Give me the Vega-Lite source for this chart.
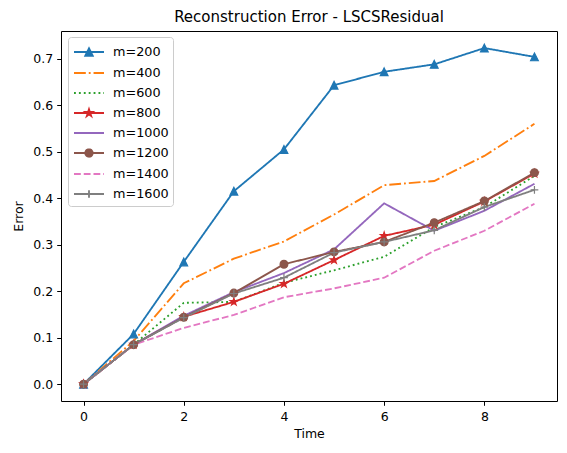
{
  "$schema": "https://vega.github.io/schema/vega-lite/v6.json",
  "title": {
    "text": "Reconstruction Error - LSCSResidual",
    "fontSize": 15,
    "fontWeight": "normal",
    "color": "#000000",
    "baseline": "alphabetic",
    "offset": 8,
    "dy": 14
  },
  "width": 496,
  "height": 370,
  "autosize": {"type": "none"},
  "padding": {"left": 61, "top": 31, "right": 10, "bottom": 52},
  "background": "white",
  "data": {
    "values": [
      {"m": "m=200", "t": 0, "error": 0}, {"m": "m=200", "t": 1, "error": 0.108}, {"m": "m=200", "t": 2, "error": 0.263}, {"m": "m=200", "t": 3, "error": 0.415}, {"m": "m=200", "t": 4, "error": 0.505},
      {"m": "m=200", "t": 5, "error": 0.643}, {"m": "m=200", "t": 6, "error": 0.672}, {"m": "m=200", "t": 7, "error": 0.688}, {"m": "m=200", "t": 8, "error": 0.723}, {"m": "m=200", "t": 9, "error": 0.704},
      {"m": "m=400", "t": 0, "error": 0}, {"m": "m=400", "t": 1, "error": 0.093}, {"m": "m=400", "t": 2, "error": 0.217}, {"m": "m=400", "t": 3, "error": 0.27}, {"m": "m=400", "t": 4, "error": 0.307},
      {"m": "m=400", "t": 5, "error": 0.365}, {"m": "m=400", "t": 6, "error": 0.428}, {"m": "m=400", "t": 7, "error": 0.437}, {"m": "m=400", "t": 8, "error": 0.491}, {"m": "m=400", "t": 9, "error": 0.56},
      {"m": "m=600", "t": 0, "error": 0}, {"m": "m=600", "t": 1, "error": 0.085}, {"m": "m=600", "t": 2, "error": 0.175}, {"m": "m=600", "t": 3, "error": 0.177}, {"m": "m=600", "t": 4, "error": 0.218},
      {"m": "m=600", "t": 5, "error": 0.245}, {"m": "m=600", "t": 6, "error": 0.274}, {"m": "m=600", "t": 7, "error": 0.338}, {"m": "m=600", "t": 8, "error": 0.381}, {"m": "m=600", "t": 9, "error": 0.448},
      {"m": "m=800", "t": 0, "error": 0}, {"m": "m=800", "t": 1, "error": 0.085}, {"m": "m=800", "t": 2, "error": 0.145}, {"m": "m=800", "t": 3, "error": 0.177}, {"m": "m=800", "t": 4, "error": 0.216},
      {"m": "m=800", "t": 5, "error": 0.267}, {"m": "m=800", "t": 6, "error": 0.319}, {"m": "m=800", "t": 7, "error": 0.343}, {"m": "m=800", "t": 8, "error": 0.393}, {"m": "m=800", "t": 9, "error": 0.453},
      {"m": "m=1000", "t": 0, "error": 0}, {"m": "m=1000", "t": 1, "error": 0.085}, {"m": "m=1000", "t": 2, "error": 0.147}, {"m": "m=1000", "t": 3, "error": 0.198}, {"m": "m=1000", "t": 4, "error": 0.239},
      {"m": "m=1000", "t": 5, "error": 0.29}, {"m": "m=1000", "t": 6, "error": 0.389}, {"m": "m=1000", "t": 7, "error": 0.33}, {"m": "m=1000", "t": 8, "error": 0.373}, {"m": "m=1000", "t": 9, "error": 0.431},
      {"m": "m=1200", "t": 0, "error": 0}, {"m": "m=1200", "t": 1, "error": 0.085}, {"m": "m=1200", "t": 2, "error": 0.144}, {"m": "m=1200", "t": 3, "error": 0.196}, {"m": "m=1200", "t": 4, "error": 0.258},
      {"m": "m=1200", "t": 5, "error": 0.2845}, {"m": "m=1200", "t": 6, "error": 0.306}, {"m": "m=1200", "t": 7, "error": 0.3475}, {"m": "m=1200", "t": 8, "error": 0.394}, {"m": "m=1200", "t": 9, "error": 0.455},
      {"m": "m=1400", "t": 0, "error": 0}, {"m": "m=1400", "t": 1, "error": 0.085}, {"m": "m=1400", "t": 2, "error": 0.121}, {"m": "m=1400", "t": 3, "error": 0.149}, {"m": "m=1400", "t": 4, "error": 0.187},
      {"m": "m=1400", "t": 5, "error": 0.206}, {"m": "m=1400", "t": 6, "error": 0.229}, {"m": "m=1400", "t": 7, "error": 0.287}, {"m": "m=1400", "t": 8, "error": 0.33}, {"m": "m=1400", "t": 9, "error": 0.388},
      {"m": "m=1600", "t": 0, "error": 0}, {"m": "m=1600", "t": 1, "error": 0.085}, {"m": "m=1600", "t": 2, "error": 0.143}, {"m": "m=1600", "t": 3, "error": 0.195}, {"m": "m=1600", "t": 4, "error": 0.229},
      {"m": "m=1600", "t": 5, "error": 0.283}, {"m": "m=1600", "t": 6, "error": 0.306}, {"m": "m=1600", "t": 7, "error": 0.331}, {"m": "m=1600", "t": 8, "error": 0.381}, {"m": "m=1600", "t": 9, "error": 0.418}
    ]
  },
  "encoding": {
    "x": {
      "field": "t",
      "type": "quantitative",
      "title": "Time",
      "scale": {"domain": [-0.45, 9.45], "nice": false, "zero": false},
      "axis": {"values": [0, 2, 4, 6, 8], "format": "d", "titlePadding": 5, "labelPadding": 5}
    },
    "y": {
      "field": "error",
      "type": "quantitative",
      "title": "Error",
      "scale": {"domain": [-0.0362, 0.7597], "nice": false, "zero": false},
      "axis": {"values": [0, 0.1, 0.2, 0.3, 0.4, 0.5, 0.6, 0.7], "format": ".1f", "titlePadding": 7}
    }
  },
  "layer": [
    {
      "transform": [{"filter": "datum.t == 0"}],
      "mark": {"type": "point", "filled": true, "opacity": 0},
      "encoding": {
        "color": {
          "field": "m",
          "type": "nominal",
          "scale": {
            "domain": ["m=200", "m=400", "m=600", "m=800", "m=1000", "m=1200", "m=1400", "m=1600"],
            "range": ["#1f77b4", "#ff7f0e", "#2ca02c", "#d62728", "#9467bd", "#8c564b", "#e377c2", "#7f7f7f"]
          },
          "legend": {
            "title": null,
            "orient": "none",
            "legendX": 7,
            "legendY": 6,
            "padding": 4,
            "strokeColor": "#cccccc",
            "cornerRadius": 3,
            "fillColor": "rgba(255,255,255,0.8)",
            "symbolSize": 400,
            "symbolOffset": 6,
            "symbolStrokeWidth": 1.85,
            "symbolOpacity": 1,
            "labelFontSize": 12.8,
            "labelColor": "#000000",
            "labelOffset": 13,
            "rowPadding": 2,
            "labelLimit": 200,
            "encode": {
              "symbols": {"update": {"fill": {"scale": "color", "field": "value"}}}
            }
          }
        },
        "shape": {
          "field": "m",
          "type": "nominal",
          "scale": {
            "domain": ["m=200", "m=400", "m=600", "m=800", "m=1000", "m=1200", "m=1400", "m=1600"],
            "range": [
              "M-1.5,0L1.5,0M0,-0.37L0.37,0.37L-0.37,0.37Z",
              "M-1.5,0L1.5,0",
              "M-1.5,0L1.5,0",
              "M-1.5,0L1.5,0M0,-0.37L0.0831,-0.1143L0.3519,-0.1143L0.1344,0.0437L0.2175,0.2993L0,0.1413L-0.2175,0.2993L-0.1344,0.0437L-0.3519,-0.1143L-0.0831,-0.1143Z",
              "M-1.5,0L1.5,0",
              "M-1.5,0L1.5,0M0.37,0A0.37,0.37,0,1,1,-0.37,0A0.37,0.37,0,1,1,0.37,0Z",
              "M-1.5,0L1.5,0",
              "M-1.5,0L1.5,0M0,-0.37L0,0.37"
            ]
          }
        }
      }
    },
    {
      "mark": {"type": "line", "strokeWidth": 1.85},
      "encoding": {
        "color": {"field": "m", "type": "nominal"},
        "strokeDash": {
          "field": "m",
          "type": "nominal",
          "scale": {
            "domain": ["m=200", "m=400", "m=600", "m=800", "m=1000", "m=1200", "m=1400", "m=1600"],
            "range": [[1, 0], [11.8, 2.95, 1.85, 2.95], [1.85, 3.05], [1, 0], [1, 0], [1, 0], [6.8, 2.95], [1, 0]]
          }
        },
        "detail": {"field": "m"}
      }
    },
    {
      "transform": [{"filter": "datum.m == 'm=200'"}],
      "mark": {"type": "point", "shape": "M0,-1L1,1L-1,1Z", "size": 60, "filled": true, "color": "#1f77b4", "stroke": "#1f77b4", "strokeWidth": 1.2, "opacity": 1}
    },
    {
      "transform": [{"filter": "datum.m == 'm=800'"}],
      "mark": {"type": "point", "shape": "M0,-1L0.2245,-0.309L0.9511,-0.309L0.3633,0.118L0.5878,0.809L0,0.382L-0.5878,0.809L-0.3633,0.118L-0.9511,-0.309L-0.2245,-0.309Z", "size": 60, "filled": true, "color": "#d62728", "stroke": "#d62728", "strokeWidth": 1.2, "opacity": 1}
    },
    {
      "transform": [{"filter": "datum.m == 'm=1200'"}],
      "mark": {"type": "point", "shape": "circle", "size": 60, "filled": true, "color": "#8c564b", "stroke": "#8c564b", "strokeWidth": 1.2, "opacity": 1}
    },
    {
      "transform": [{"filter": "datum.m == 'm=1600'"}],
      "mark": {"type": "point", "shape": "M-1,0L1,0M0,-1L0,1", "size": 60, "filled": false, "stroke": "#7f7f7f", "strokeWidth": 1.2, "opacity": 1}
    }
  ],
  "config": {
    "font": "DejaVu Sans",
    "view": {"stroke": "#000000", "strokeWidth": 1},
    "axis": {
      "grid": false,
      "domain": false,
      "ticks": true,
      "tickColor": "#000000",
      "tickSize": 4.3,
      "tickWidth": 1,
      "labelFontSize": 12.5,
      "labelColor": "#000000",
      "labelPadding": 4,
      "titleFontSize": 12.5,
      "titleFontWeight": "normal",
      "titleColor": "#000000"
    }
  }
}
